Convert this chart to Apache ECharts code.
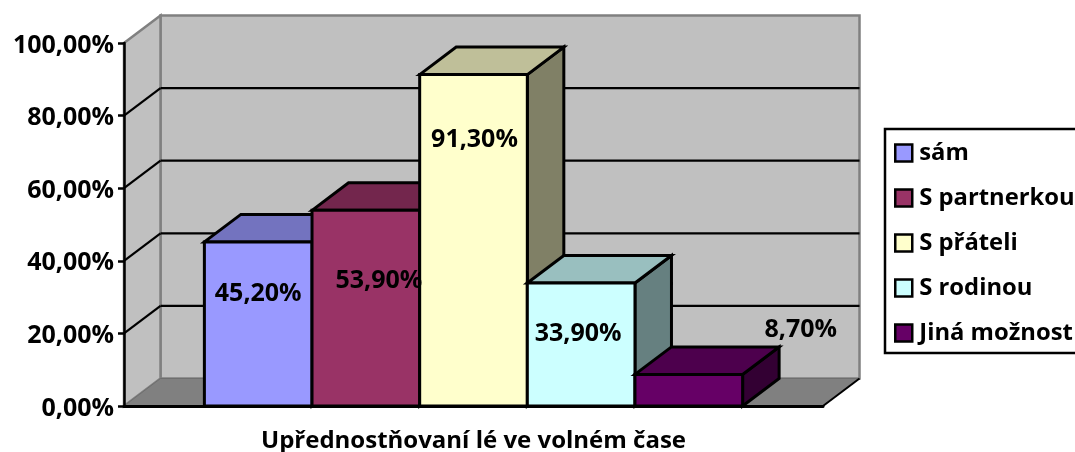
<!DOCTYPE html>
<html>
<head>
<meta charset="utf-8">
<style>html,body{margin:0;padding:0;background:#fff;overflow:hidden}#main{width:1075px;height:452px}</style>
<script src="https://cdn.jsdelivr.net/npm/echarts@6/dist/echarts.min.js"></script>
</head>
<body>
<div id="main"></div>
<script>
var categories = ['Upřednostňovaní lé ve volném čase'];
var seriesNames = ['sám', 'S partnerkou', 'S přáteli', 'S rodinou', 'Jiná možnost'];
var seriesValues = [45.2, 53.9, 91.3, 33.9, 8.7];
var seriesColors = ['#9999ff', '#993366', '#ffffcc', '#ccffff', '#660066'];
var tickValues = [0, 20, 40, 60, 80, 100];

// pixel shift of each value label from the top of its bar
var labelShift = [[0, 52], [13, 71], [1, 65], [-3, 51], [112, -45]];

var FONT = '"Open Sans", sans-serif';
var DX = 36.5, DY = -27.5;     // depth of the fake 3D box
var BAR_RATIO = 0.154;         // bar width as part of the band

function shade(hex, f) {
    var n = parseInt(hex.slice(1), 16);
    var r = Math.round((n >> 16 & 255) * f), g = Math.round((n >> 8 & 255) * f), b = Math.round((n & 255) * f);
    return 'rgb(' + r + ',' + g + ',' + b + ')';
}

function barBox(api, idx) {
    var base = api.coord([0, 0]);
    var top = api.coord([0, seriesValues[idx]]);
    var w = api.size([1, 0])[0] * BAR_RATIO;
    var x0 = base[0] + (idx - 2.5) * w;
    return { x0: x0, x1: x0 + w, y0: base[1], y1: top[1] };
}

function poly(points, fill, stroke, lw) {
    return {
        type: 'polygon',
        shape: { points: points },
        style: { fill: fill, stroke: stroke, lineWidth: lw, lineJoin: 'miter' }
    };
}

function line(a, b, color, lw) {
    return {
        type: 'line',
        shape: { x1: a[0], y1: a[1], x2: b[0], y2: b[1] },
        style: { stroke: color, lineWidth: lw, fill: null }
    };
}

// walls, floor and the gridlines on them
function renderWalls(params, api) {
    var v = api.value(0);
    var rect = params.coordSys;
    var left = rect.x, right = rect.x + rect.width, bottom = rect.y + rect.height, top = rect.y;
    var children = [];
    if (params.dataIndex === 0) {
        children.push(poly([[left + DX, top + DY], [right + DX, top + DY], [right + DX, bottom + DY], [left + DX, bottom + DY]], '#c0c0c0', '#808080', 2.5));
        children.push(poly([[left, top], [left + DX, top + DY], [left + DX, bottom + DY], [left, bottom]], '#c0c0c0', '#808080', 2.5));
        children.push(poly([[left, bottom], [left + DX, bottom + DY], [right + DX, bottom + DY], [right, bottom]], '#808080', '#6e6e6e', 1));
        children.push(line([right, bottom], [right + DX, bottom + DY], '#000', 2));
    }
    if (v > 0 && v < 100) {
        var p = api.coord([0, v]);
        children.push(line([left, p[1]], [left + DX, p[1] + DY], '#000', 2.2));
        children.push(line([left + DX, p[1] + DY], [right + DX, p[1] + DY], '#000', 2.2));
    }
    return { type: 'group', children: children };
}

function makeBar(idx) {
    return {
        type: 'custom',
        name: seriesNames[idx],
        coordinateSystem: 'cartesian2d',
        z: 2,
        itemStyle: { color: seriesColors[idx] },
        data: [[0, seriesValues[idx]]],
        encode: { x: 0, y: 1 },
        renderItem: function (params, api) {
            var b = barBox(api, idx);
            var c = seriesColors[idx];
            return {
                type: 'group',
                children: [
                    poly([[b.x1, b.y0], [b.x1 + DX, b.y0 + DY], [b.x1 + DX, b.y1 + DY], [b.x1, b.y1]], shade(c, 0.5), '#000', 3),
                    poly([[b.x0, b.y1], [b.x0 + DX, b.y1 + DY], [b.x1 + DX, b.y1 + DY], [b.x1, b.y1]], shade(c, 0.75), '#000', 3),
                    poly([[b.x0, b.y0], [b.x1, b.y0], [b.x1, b.y1], [b.x0, b.y1]], c, '#000', 3)
                ]
            };
        }
    };
}

var labelSeries = {
    type: 'custom',
    coordinateSystem: 'cartesian2d',
    z: 6,
    silent: true,
    data: seriesValues.map(function (v, i) { return [0, v, i]; }),
    encode: { x: 0, y: 1 },
    renderItem: function (params, api) {
        var i = api.value(2);
        var b = barBox(api, i);
        return {
            type: 'text',
            x: (b.x0 + b.x1) / 2 + labelShift[i][0],
            y: b.y1 + labelShift[i][1],
            style: {
                text: seriesValues[i].toFixed(2).replace('.', ',') + '%',
                fontFamily: FONT,
                fontWeight: 'bold',
                fontSize: 25,
                fill: '#000',
                align: 'center',
                verticalAlign: 'middle'
            }
        };
    }
};

var wallSeries = {
    type: 'custom',
    coordinateSystem: 'cartesian2d',
    z: 1,
    silent: true,
    data: tickValues.map(function (v) { return [v]; }),
    encode: { y: 0 },
    renderItem: renderWalls
};

var option = {
    animation: false,
    backgroundColor: '#fff',
    tooltip: { show: false },
    grid: { left: 124, right: 252, top: 43, bottom: 46, outerBoundsMode: 'none' },
    legend: {
        data: seriesNames,
        orient: 'vertical',
        left: 885,
        top: 129,
        padding: [12, 30, 8, 9],
        itemGap: 21,
        itemWidth: 17,
        itemHeight: 17,
        icon: 'rect',
        selectedMode: false,
        backgroundColor: '#fff',
        borderColor: '#000',
        borderWidth: 2.5,
        itemStyle: { borderColor: '#000', borderWidth: 2.5 },
        textStyle: { fontFamily: FONT, fontWeight: 'bold', fontSize: 23.8, color: '#000', padding: [0, 0, 0, 2] }
    },
    xAxis: {
        type: 'category',
        data: categories,
        z: 8,
        axisLine: { lineStyle: { color: '#000', width: 3 } },
        axisTick: { show: false },
        axisLabel: { margin: 23, fontFamily: FONT, fontWeight: 'bold', fontSize: 24, color: '#000' }
    },
    yAxis: {
        type: 'value',
        min: 0,
        max: 100,
        interval: 20,
        z: 8,
        splitLine: { show: false },
        axisLine: { show: true, lineStyle: { color: '#000', width: 2.5 } },
        axisTick: { show: true, length: 6, lineStyle: { color: '#000', width: 2.5 } },
        axisLabel: {
            margin: 10,
            verticalAlign: 'top',
            padding: [-10, 0, 0, 0],
            fontFamily: FONT,
            fontWeight: 'bold',
            fontSize: 25,
            color: '#000',
            formatter: function (v) { return v.toFixed(2).replace('.', ',') + '%'; }
        }
    },
    series: [wallSeries].concat(seriesValues.map(function (v, i) { return makeBar(i); }), [labelSeries])
};

var myChart = echarts.init(document.getElementById('main'));
myChart.setOption(option);
</script>
</body>
</html>
